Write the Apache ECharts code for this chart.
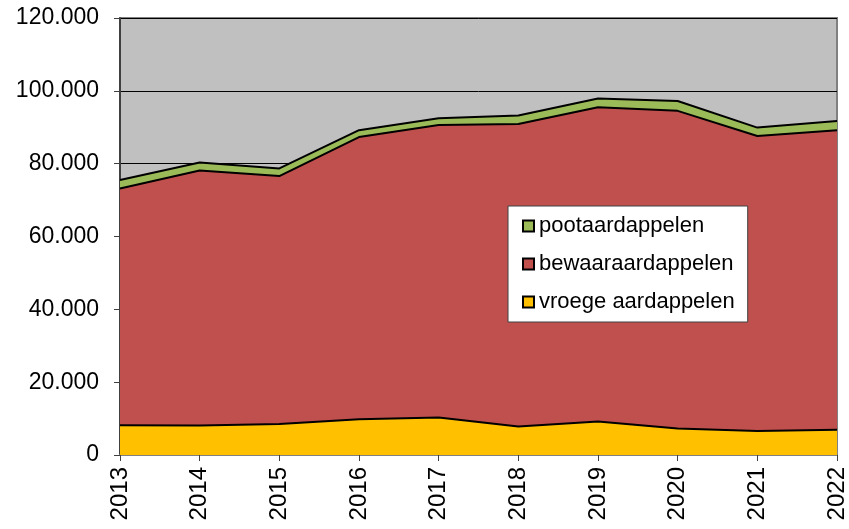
<!DOCTYPE html>
<html>
<head>
<meta charset="utf-8">
<script src="https://cdn.jsdelivr.net/npm/echarts@6/dist/echarts.min.js"></script>
<style>
  html, body { margin: 0; padding: 0; background: #fff; }
  #chart { width: 849px; height: 529px; }
</style>
</head>
<body>
<div id="chart"></div>
<script>
// jaren en areaal per soort aardappel
var years = ['2013', '2014', '2015', '2016', '2017', '2018', '2019', '2020', '2021', '2022'];
var vroege = [8200, 8100, 8500, 9800, 10300, 7800, 9200, 7300, 6600, 6900];
var bewaar = [65000, 70000, 68100, 77500, 80300, 83100, 86300, 87200, 81000, 82300];
var poot = [2300, 2200, 2100, 1900, 1900, 2300, 2400, 2700, 2300, 2500];
var yTicks = [0, 20000, 40000, 60000, 80000, 100000, 120000];

var font = 'Liberation Sans, Arial, sans-serif';

function fmt(v) {
    return String(v).replace(/\B(?=(\d{3})+(?!\d))/g, '.');
}

function areaSeries(name, data, color) {
    return {
        name: name,
        type: 'line',
        stack: 'totaal',
        data: data,
        symbol: 'none',
        lineStyle: { color: '#000', width: 2 },
        itemStyle: { color: color, borderColor: '#000', borderWidth: 1.5 },
        areaStyle: { color: color, opacity: 1 }
    };
}

var myChart = echarts.init(document.getElementById('chart'));
myChart.setOption({
    animation: false,
    backgroundColor: '#fff',
    grid: {
        left: 120, right: 12, top: 18, bottom: 74,
        show: true,
        backgroundColor: '#c0c0c0',
        borderColor: '#808080',
        borderWidth: 2
    },
    legend: {
        orient: 'vertical',
        left: 508, top: 206,
        padding: [9, 13, 9, 14],
        itemGap: 16,
        itemWidth: 11, itemHeight: 11,
        icon: 'rect',
        backgroundColor: '#fff',
        borderColor: '#404040',
        borderWidth: 1,
        data: ['pootaardappelen', 'bewaaraardappelen', 'vroege aardappelen'],
        textStyle: { fontFamily: font, fontSize: 22, color: '#000' }
    },
    xAxis: {
        type: 'category',
        data: years,
        boundaryGap: false,
        axisLine: { lineStyle: { color: '#808080', width: 2 } },
        axisTick: { length: 6, lineStyle: { color: '#404040' } },
        axisLabel: {
            rotate: 90, margin: 12,
            fontFamily: font, fontSize: 24, color: '#000'
        },
        splitLine: { show: false }
    },
    yAxis: {
        type: 'value',
        min: yTicks[0],
        max: yTicks[yTicks.length - 1],
        interval: 20000,
        axisLine: { show: true, lineStyle: { color: '#404040', width: 2 } },
        axisTick: { show: true, length: 6, lineStyle: { color: '#404040' } },
        axisLabel: {
            margin: 21,
            fontFamily: font, fontSize: 23, color: '#000',
            formatter: function(v) { return fmt(v); }
        },
        splitLine: { show: true, lineStyle: { color: '#000', width: 1 } }
    },
    series: [
        areaSeries('vroege aardappelen', vroege, '#ffc000'),
        areaSeries('bewaaraardappelen', bewaar, '#c0504d'),
        areaSeries('pootaardappelen', poot, '#9bbb59')
    ]
});
</script>
</body>
</html>
